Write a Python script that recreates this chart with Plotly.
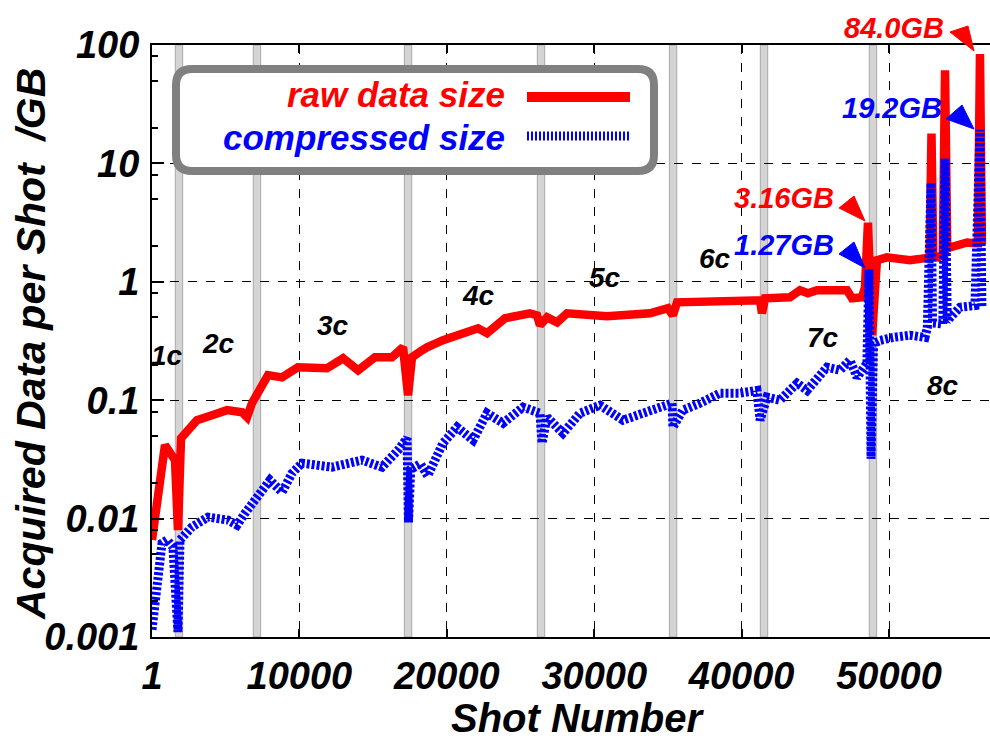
import plotly.graph_objects as go

# ---------------- data ----------------
raw_x = [1, 880, 1560, 1760, 1970, 3050, 4070, 5090, 6110, 6450, 6780, 7330, 7870, 8820,
         9900, 11870, 12960, 13980, 15130, 16280, 17030, 17370, 17640, 18320, 18660, 19740,
         20690, 22120, 22730, 23950, 25640, 26120, 26320, 26800, 27480, 28150, 30870, 33780,
         35000, 35340, 35620, 36500, 41250, 41380, 41590, 43280, 43960, 44500, 45110, 47150,
         47490, 48170, 48370, 48570, 48850, 49180, 49860, 51420, 52580, 52750, 52880, 53000,
         53320, 53650, 53800, 53950, 54140, 55290, 55830, 56030, 56170, 56300]
raw_y = [0.0066, 0.0417, 0.0312, 0.0080, 0.0478, 0.0678, 0.0746, 0.0824, 0.0792, 0.0719,
         0.0944, 0.121, 0.163, 0.156, 0.190, 0.186, 0.226, 0.179, 0.231, 0.231, 0.280, 0.110,
         0.231, 0.264, 0.280, 0.321, 0.354, 0.405, 0.368, 0.492, 0.542, 0.521, 0.430, 0.501,
         0.455, 0.542, 0.512, 0.542, 0.598, 0.521, 0.671, 0.671, 0.698, 0.542, 0.726, 0.740,
         0.848, 0.800, 0.848, 0.848, 0.726, 0.740, 0.899, 3.16, 0.354, 1.52, 1.61, 1.52, 1.61,
         1.60, 17.9, 1.62, 1.61, 1.70, 61.0, 1.90, 1.95, 2.15, 2.12, 2.12, 84.0, 2.10]

comp_x = [1, 680, 1020, 1420, 1760, 1900, 2710, 3800, 5160, 5770, 6310, 6990, 8000, 8820,
          9500, 10180, 12210, 14250, 15600, 16690, 17300, 17400, 17550, 18200, 18700, 19740,
          20220, 20690, 21780, 22730, 23810, 25170, 26320, 26460, 26800, 27880, 29040, 30390,
          31950, 33310, 34260, 35280, 35340, 36020, 37180, 38530, 39890, 41040, 41250, 41720,
          42600, 43760, 44440, 45790, 46670, 47350, 47830, 48500, 48640, 48780, 48950, 49390,
          50270, 51420, 52440, 52600, 52850, 52950, 53650, 53800, 53950, 54820, 55830, 56170,
          56300]
comp_y = [0.00115, 0.0062, 0.0066, 0.00575, 0.0011, 0.0066, 0.0085, 0.0103, 0.0097, 0.0088,
          0.0111, 0.0143, 0.0211, 0.0167, 0.0242, 0.0294, 0.0272, 0.0312, 0.0272, 0.0378,
          0.0478, 0.0093, 0.026, 0.029, 0.023, 0.0434, 0.0527, 0.0592, 0.046, 0.0777, 0.064,
          0.0873, 0.0777, 0.0434, 0.0719, 0.0527, 0.0777, 0.0907, 0.0678, 0.0777, 0.0873,
          0.0944, 0.0592, 0.0824, 0.0944, 0.1146, 0.1146, 0.121, 0.0678, 0.106, 0.100, 0.139,
          0.121, 0.190, 0.179, 0.218, 0.156, 0.205, 1.27, 0.032, 0.30, 0.32, 0.339, 0.354,
          0.339, 0.41, 6.8, 0.45, 0.44, 11.0, 0.47, 0.61, 0.63, 19.2, 0.60]

campaign_bounds = [1830, 7120, 17370, 26390, 35350, 41520, 48910]
campaign_labels = ["1c", "2c", "3c", "4c", "5c", "6c", "7c", "8c"]

x_ticks = [1, 10000, 20000, 30000, 40000, 50000]
x_ticktext = ["1", "10000", "20000", "30000", "40000", "50000"]
y_ticks = [0.001, 0.01, 0.1, 1, 10, 100]
y_ticktext = ["0.001", "0.01", "0.1", "1", "10", "100"]

peak_labels = ["84.0GB", "19.2GB", "3.16GB", "1.27GB"]

# ---------------- layout helpers ----------------
W, H = 990, 740
L, R, T, B = 152, 990, 45, 637
FONT = "Liberation Sans, Arial, sans-serif"


def px(x):
    return (x - L) / (R - L)


def py(y):
    return (B - y) / (B - T)


fig = go.Figure()

fig.add_trace(go.Scatter(x=raw_x, y=raw_y, mode="lines", name="raw data size",
                         line=dict(color="#ff0000", width=8.5), showlegend=False))
fig.add_trace(go.Scatter(x=comp_x, y=comp_y, mode="lines", name="compressed size",
                         line=dict(color="#0000ff", width=9, dash="3px,2px"),
                         showlegend=False))

shapes = []
# campaign boundary bands
for c in campaign_bounds:
    shapes.append(dict(type="rect", xref="x", yref="paper", x0=c - 250, x1=c + 250,
                       y0=0, y1=1, fillcolor="#d4d4d4",
                       line=dict(color="#a8a8a8", width=1), layer="below"))

# legend box (rounded)
x0, x1, y0, y1, r = 176, 654, 69, 171, 16
path = (f"M {px(x0 + r)},{py(y0)} L {px(x1 - r)},{py(y0)} "
        f"Q {px(x1)},{py(y0)} {px(x1)},{py(y0 + r)} "
        f"L {px(x1)},{py(y1 - r)} Q {px(x1)},{py(y1)} {px(x1 - r)},{py(y1)} "
        f"L {px(x0 + r)},{py(y1)} Q {px(x0)},{py(y1)} {px(x0)},{py(y1 - r)} "
        f"L {px(x0)},{py(y0 + r)} Q {px(x0)},{py(y0)} {px(x0 + r)},{py(y0)} Z")
shapes.append(dict(type="path", xref="paper", yref="paper", path=path,
                   fillcolor="white", line=dict(color="#808080", width=8), layer="above"))
shapes.append(dict(type="line", xref="paper", yref="paper", x0=px(527), x1=px(630),
                   y0=py(97), y1=py(97), line=dict(color="#ff0000", width=10), layer="above"))
shapes.append(dict(type="line", xref="paper", yref="paper", x0=px(527), x1=px(630),
                   y0=py(136), y1=py(136), line=dict(color="#0000ff", width=9, dash="2px,2px"),
                   layer="above"))

# arrow heads
tris = [((950, 32), (968, 26), (974, 51), "#ff0000"),
        ((946, 119), (962, 105), (974, 129), "#0000ff"),
        ((839, 208), (854, 196), (865, 221), "#ff0000"),
        ((839, 254), (854, 242), (865, 268), "#0000ff")]
for a, b, c, col in tris:
    shapes.append(dict(type="path", xref="paper", yref="paper",
                       path=f"M {px(a[0])},{py(a[1])} L {px(b[0])},{py(b[1])} L {px(c[0])},{py(c[1])} Z",
                       fillcolor=col, line=dict(color=col, width=1), layer="above"))

annotations = []
bfont = dict(family=FONT, weight="bold", style="italic")
annotations.append(dict(x=px(507), y=py(95), xref="paper", yref="paper", text="raw data size",
                        showarrow=False, xanchor="right", yanchor="middle",
                        font=dict(**bfont, size=35, color="#ff0000")))
annotations.append(dict(x=px(507), y=py(137), xref="paper", yref="paper", text="compressed size",
                        showarrow=False, xanchor="right", yanchor="middle",
                        font=dict(**bfont, size=35, color="#0000ff")))

peak_pos = [(946, 28, "#ff0000"), (944, 108, "#0000ff"), (836, 198, "#ff0000"), (836, 245, "#0000ff")]
for txt, (xx, yy, col) in zip(peak_labels, peak_pos):
    annotations.append(dict(x=px(xx), y=py(yy), xref="paper", yref="paper", text=txt,
                            showarrow=False, xanchor="right", yanchor="middle",
                            font=dict(**bfont, size=29, color=col)))

lab_pos = [(167, 355), (218, 343), (333, 325), (478, 295), (605, 277), (715, 258), (823, 337), (943, 385)]
for txt, (xx, yy) in zip(campaign_labels, lab_pos):
    annotations.append(dict(x=px(xx), y=py(yy), xref="paper", yref="paper", text=txt,
                            showarrow=False, xanchor="center", yanchor="middle",
                            font=dict(**bfont, size=28, color="black")))

# axis titles
annotations.append(dict(x=px(578), y=py(718), xref="paper", yref="paper", text="Shot Number",
                        showarrow=False, xanchor="center", yanchor="middle",
                        font=dict(**bfont, size=40, color="black")))
annotations.append(dict(x=px(31), y=py(344), xref="paper", yref="paper",
                        text="Acquired Data per Shot\u00a0\u00a0/GB", textangle=-90,
                        showarrow=False, xanchor="center", yanchor="middle",
                        font=dict(**bfont, size=41, color="black")))

tickfont = dict(family=FONT, size=38, color="black", weight="bold", style="italic")

minor_vals = []
for k in range(-3, 2):
    for m in (2, 5, 8):
        minor_vals.append(m * 10 ** k)

fig.update_layout(
    width=W, height=H,
    margin=dict(l=L, r=W - R, t=T, b=H - B, autoexpand=False),
    paper_bgcolor="white", plot_bgcolor="white",
    shapes=shapes, annotations=annotations,
    xaxis=dict(range=[0, 56850], tickvals=x_ticks, ticktext=x_ticktext,
               tickfont=tickfont, showline=True, linecolor="black", linewidth=2,
               mirror="ticks", ticks="inside", ticklen=8, tickwidth=2, tickcolor="black",
               showgrid=True, gridcolor="black", gridwidth=1, griddash="dash",
               zeroline=False, ticklabelstandoff=4, automargin=False),
    yaxis=dict(type="log", range=[-3, 2], tickvals=y_ticks, ticktext=y_ticktext,
               tickfont=tickfont, showline=True, linecolor="black", linewidth=2,
               ticks="inside", ticklen=12, tickwidth=2, tickcolor="black",
               showgrid=True, gridcolor="black", gridwidth=1, griddash="dash",
               zeroline=False, ticklabelstandoff=3, automargin=False,
               minor=dict(tickvals=minor_vals, ticks="inside", ticklen=6, tickwidth=2,
                          tickcolor="black", showgrid=False)),
)

fig.write_html("out.html", config={"displayModeBar": False},
               post_script="document.body.style.margin='0px';")
